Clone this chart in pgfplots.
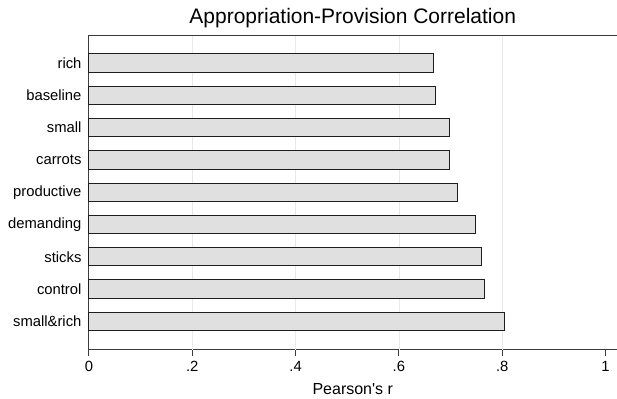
\documentclass[border=0pt]{standalone}
\usepackage{pgfplots}
\pgfplotsset{compat=1.18}
\usepackage{fontspec}
\setmainfont{Liberation Sans}
\definecolor{barfill}{RGB}{224,224,224}
\definecolor{barline}{RGB}{30,30,30}
\definecolor{axline}{RGB}{60,60,60}
\definecolor{gridc}{RGB}{232,232,232}
\begin{document}
\begin{tikzpicture}
\begin{axis}[
  at={(0,0)}, anchor=south west,
  scale only axis,
  width=528pt, height=315pt,
  xbar, bar width=18.3pt,
  xmin=0, xmax=1.0213,
  ymin=0.12, ymax=9.87,
  axis x line*=bottom, axis y line*=left,
  axis line style={color=axline, line width=0.9pt},
  xtick={0,0.2,0.4,0.6,0.8,1},
  xticklabels={0,.2,.4,.6,.8,1},
  ytick={1,2,3,4,5,6,7,8,9},
  yticklabels={small\&rich,control,sticks,demanding,productive,carrots,small,baseline,rich},
  tick align=outside,
  major tick length=6pt,
  xtick style={color=axline, line width=0.9pt},
  ytick style={draw=none},
  extra x ticks={0.2,0.4,0.6,0.8},
  extra x tick labels={},
  extra x tick style={grid=major, major tick length=0pt, grid style={color=gridc, line width=0.8pt}},
  /pgf/number format/assume math mode=true,
  ticklabel style={font=\fontsize{14.8}{16}\selectfont},
  yticklabel style={xshift=2pt},
  xticklabel style={yshift=-2pt},
  xlabel={Pearson\textquotesingle s r},
  xlabel style={font=\fontsize{16}{18}\selectfont, yshift=1pt},
  title={Appropriation-Provision Correlation},
  title style={font=\fontsize{21}{24}\selectfont, at={(0.5,1)}, anchor=base, yshift=5pt},
  clip=false,
]
\addplot[fill=barfill, draw=barline, line width=1pt] coordinates {
  (0.805,1) (0.766,2) (0.759,3) (0.748,4) (0.713,5) (0.6985,6) (0.698,7) (0.6715,8) (0.6675,9)
};
\draw[color=axline, line width=0.9pt] (rel axis cs:0,1) -- (rel axis cs:1,1);
\end{axis}
\path[use as bounding box] (-89pt,-48pt) rectangle (528pt,350pt);
\end{tikzpicture}
\end{document}
